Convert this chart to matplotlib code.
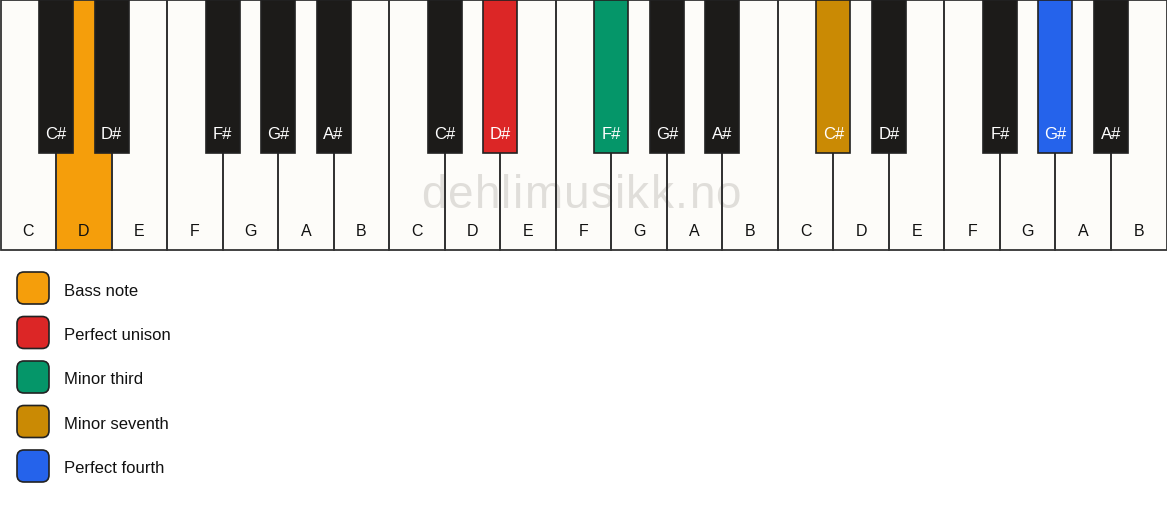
import matplotlib.pyplot as plt
from matplotlib.patches import Rectangle, FancyBboxPatch

# keyboard data: three octaves C..B
white_notes = ["C", "D", "E", "F", "G", "A", "B"] * 3
black_notes = ["C#", "D#", "F#", "G#", "A#"] * 3
# black key sits on the boundary after this white key index within an octave
black_after = [1, 2, 4, 5, 6]

# highlighted keys: index -> colour
highlight_white = {1: "#F59E0B"}
highlight_black = {6: "#DC2626", 7: "#059669", 10: "#CA8A04", 13: "#2563EB"}

legend_labels = ["Bass note", "Perfect unison", "Minor third", "Minor seventh", "Perfect fourth"]
legend_colors = ["#F59E0B", "#DC2626", "#059669", "#CA8A04", "#2563EB"]

watermark = "dehlimusikk.no"

W, H = 1167, 506
fig = plt.figure(figsize=(W / 100, H / 100), dpi=100)
ax = fig.add_axes([0, 0, 1, 1])
ax.set_xlim(0, W)
ax.set_ylim(H, 0)
ax.axis("off")

FONT = "Liberation Sans"
kw = (W - 1) / len(white_notes)
kh = 250
bw, bh = 34, 153

for i, name in enumerate(white_notes):
    x = 0.5 + i * kw
    fc = highlight_white.get(i, "#FDFCF9")
    ax.add_patch(Rectangle((x, 0.5), kw, kh, facecolor=fc, edgecolor="none", zorder=1))
    ax.add_patch(Rectangle((x, 0.5), kw, kh, fill=False, edgecolor="#333333", lw=1.3, zorder=2))
    ax.text(x + kw / 2, 232, name, ha="center", va="center", fontsize=11.5,
            color="#111111", family=FONT, zorder=2)

for j, name in enumerate(black_notes):
    octave, k = divmod(j, 5)
    cx = 0.5 + (octave * 7 + black_after[k]) * kw
    fc = highlight_black.get(j, "#1C1B19")
    ax.add_patch(Rectangle((cx - bw / 2, 0.5), bw, bh, facecolor=fc, edgecolor="#222222", lw=1.2, zorder=3))
    ax.text(cx, 134, name, ha="center", va="center", fontsize=12,
            color="white", family=FONT, zorder=4)

# watermark, slightly letter-spaced, under the key outlines
renderer = fig.canvas.get_renderer()
wm_size, wm_span, wm_left = 33, 320, 421
pieces = []
for ch in watermark:
    t = ax.text(0, 208, ch, ha="left", va="baseline", fontsize=wm_size,
                color="#E0DEDA", family=FONT, zorder=1.5)
    pieces.append((t, t.get_window_extent(renderer).width))
gap = (wm_span - sum(w for _, w in pieces)) / (len(pieces) - 1)
x = wm_left
for t, w in pieces:
    t.set_x(x)
    x += w + gap

# legend
for n, (lab, col) in enumerate(zip(legend_labels, legend_colors)):
    y = 273 + n * 44.5
    ax.add_patch(FancyBboxPatch((17, y), 32, 32, boxstyle="round,pad=0,rounding_size=7",
                                facecolor=col, edgecolor="#222222", lw=1.2))
    ax.text(64, y + 18, lab, ha="left", va="center", fontsize=12,
            color="#111111", family=FONT)

fig.savefig("out.png", dpi=100, facecolor="white")
